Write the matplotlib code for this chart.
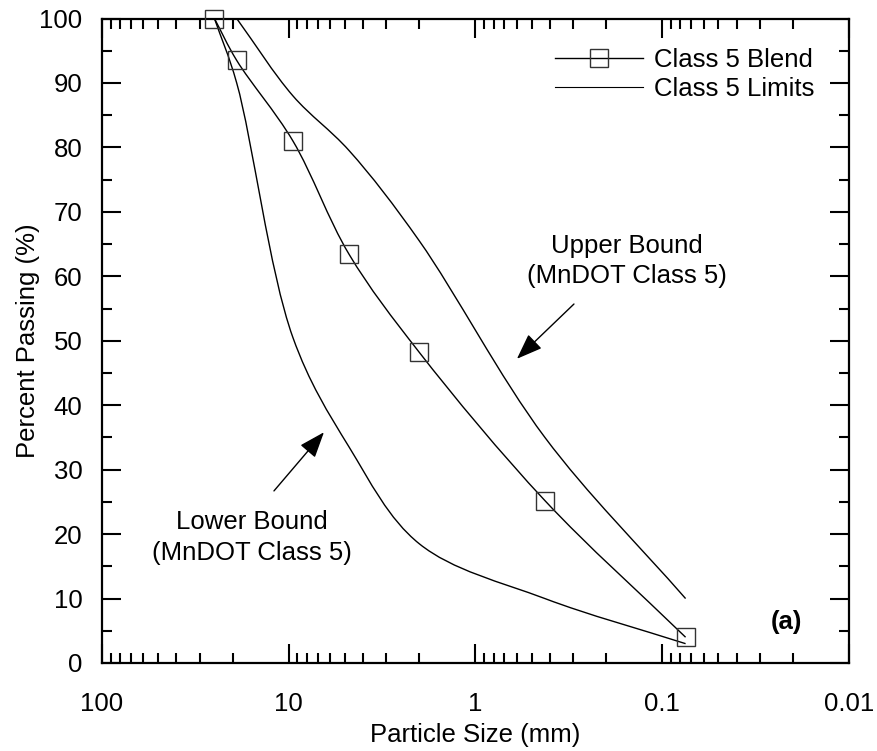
import numpy as np
import matplotlib.pyplot as plt
from matplotlib.path import Path
from matplotlib.patches import PathPatch
from matplotlib.lines import Line2D
from matplotlib.ticker import FixedLocator, LogLocator, MultipleLocator, FuncFormatter

plt.rcParams['font.family'] = ['Liberation Sans', 'DejaVu Sans']

# sieve sizes (mm) and percent passing
SIEVE_BLEND = [25.0, 19.0, 9.5, 4.75, 2.0, 0.425, 0.075]
PASS_BLEND = [100.0, 93.5, 81.0, 63.4, 48.2, 25.2, 4.0]

SIEVE_UPPER = [19.0, 9.5, 4.75, 2.0, 0.425, 0.075]
PASS_UPPER = [100.0, 88.0, 79.5, 65.5, 35.0, 10.0]

SIEVE_LOWER = [25.0, 19.0, 9.5, 4.75, 2.0, 0.425, 0.075]
PASS_LOWER = [100.0, 90.0, 50.5, 33.5, 18.5, 10.0, 3.0]

X_TICKS = [100, 10, 1, 0.1, 0.01]

FS = 18.5
# approx. pixels per decade / per percent, used only to shape the smoothing
SX, SY = 186.8, 6.446


def smooth_curve(x, y):
    # centripetal Catmull-Rom through the points, as cubic Beziers (log-x space)
    pts = np.column_stack([np.log10(np.asarray(x, float)) * SX,
                           np.asarray(y, float) * SY])
    ext = np.vstack([2 * pts[0] - pts[1], pts, 2 * pts[-1] - pts[-2]])
    verts = [pts[0]]
    codes = [Path.MOVETO]
    for i in range(1, len(ext) - 2):
        p0, p1, p2, p3 = ext[i - 1], ext[i], ext[i + 1], ext[i + 2]
        d0 = np.linalg.norm(p1 - p0) ** 0.5
        d1 = np.linalg.norm(p2 - p1) ** 0.5
        d2 = np.linalg.norm(p3 - p2) ** 0.5
        m1 = ((p1 - p0) / d0 - (p2 - p0) / (d0 + d1) + (p2 - p1) / d1) * d1
        m2 = ((p2 - p1) / d1 - (p3 - p1) / (d1 + d2) + (p3 - p2) / d2) * d1
        verts += [p1 + m1 / 3.0, p2 - m2 / 3.0, p2]
        codes += [Path.CURVE4] * 3
    verts = np.array(verts)
    verts = np.column_stack([10 ** (verts[:, 0] / SX), verts[:, 1] / SY])
    return Path(verts, codes)


fig = plt.figure(figsize=(8.77, 7.51), dpi=100)
ax = fig.add_axes([102 / 877, 1 - 663 / 751, (849 - 102) / 877, (663 - 18.5) / 751])

ax.set_xscale('log')
ax.set_xlim(100, 0.01)
ax.set_ylim(0, 100)

for sx, sy in [(SIEVE_BLEND, PASS_BLEND), (SIEVE_UPPER, PASS_UPPER),
               (SIEVE_LOWER, PASS_LOWER)]:
    ax.add_patch(PathPatch(smooth_curve(sx, sy), fill=False, lw=1.0, edgecolor='black'))

ax.plot(SIEVE_BLEND, PASS_BLEND, 's', ms=13, mfc='none', mec='#333333', mew=1.0,
        clip_on=False, zorder=3)

h_blend = Line2D([], [], color='black', lw=1.0, marker='s', ms=13, mfc='none',
                 mec='#333333', mew=1.0)
h_lim = Line2D([], [], color='black', lw=0.8)
ax.legend([h_blend, h_lim], ['Class 5 Blend', 'Class 5 Limits'], loc='upper left',
          bbox_to_anchor=(0.606, 0.955), frameon=False, fontsize=FS, numpoints=1,
          handlelength=3.45, handletextpad=0.4, labelspacing=0.2,
          borderaxespad=0, borderpad=0)

arrow = dict(arrowstyle='-|>,head_length=0.4,head_width=0.15', color='black', lw=1.0,
             mutation_scale=40, shrinkA=0, shrinkB=0)
ax.annotate('', xy=(0.60, 47.2), xytext=(0.297, 55.7), arrowprops=arrow)
ax.text(0.155, 62.4, 'Upper Bound\n(MnDOT Class 5)', ha='center', va='center',
        fontsize=FS, linespacing=1.35)

ax.annotate('', xy=(6.48, 35.8), xytext=(12.0, 26.7), arrowprops=arrow)
ax.text(15.7, 19.5, 'Lower Bound\n(MnDOT Class 5)', ha='center', va='center',
        fontsize=FS, linespacing=1.35)

ax.text(0.0215, 6.4, '(a)', ha='center', va='center', fontsize=FS, fontweight='bold')

ax.xaxis.set_major_locator(FixedLocator(X_TICKS))
ax.xaxis.set_minor_locator(LogLocator(base=10, subs=np.arange(2, 10)))
ax.xaxis.set_major_formatter(FuncFormatter(lambda v, p: '%g' % v))
ax.yaxis.set_major_locator(MultipleLocator(10))
ax.yaxis.set_minor_locator(MultipleLocator(5))

ax.tick_params(which='both', direction='in', top=True, right=True, width=1.5,
               labelsize=FS)
ax.tick_params(which='major', length=14)
ax.tick_params(which='minor', length=7)
ax.tick_params(axis='x', which='major', pad=21)
ax.tick_params(axis='y', which='major', pad=14)
for s in ax.spines.values():
    s.set_linewidth(1.6)

ax.set_xlabel('Particle Size (mm)', fontsize=FS, labelpad=5)
ax.set_ylabel('Percent Passing (%)', fontsize=FS, labelpad=-0.5)

fig.savefig('out.png', dpi=100)
